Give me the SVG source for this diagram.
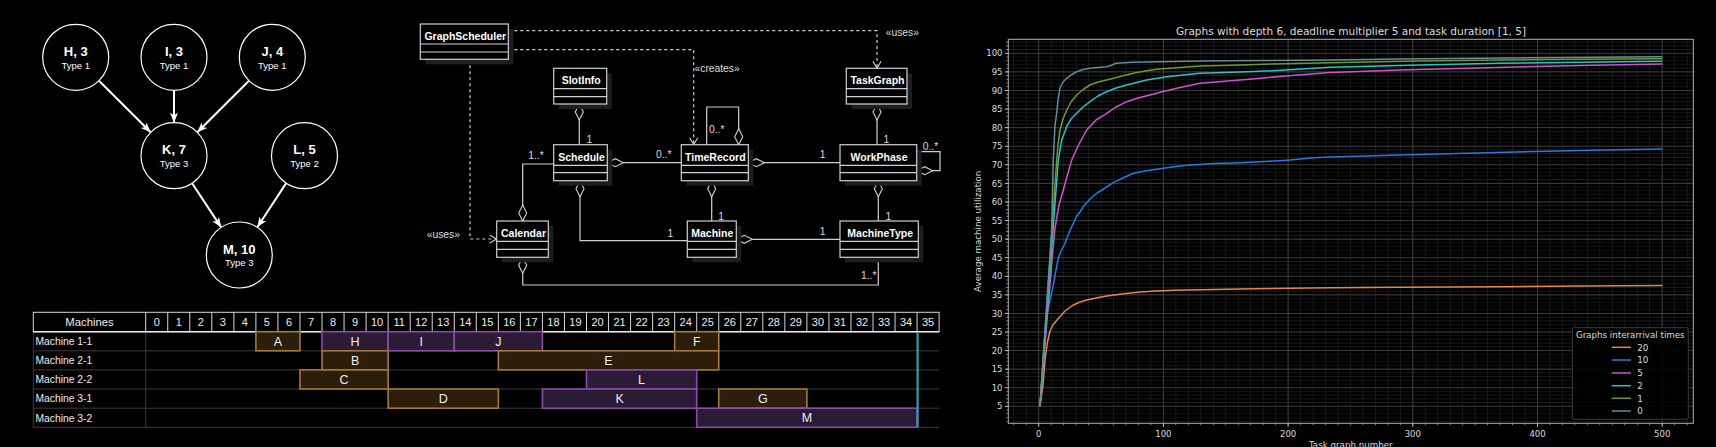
<svg xmlns="http://www.w3.org/2000/svg" width="1716" height="447" viewBox="0 0 1716 447">
<style>
.bg{fill:#000}
.circ{fill:#000;stroke:#fff;stroke-width:1.2}
.nt{font-family:"Liberation Sans",Arial,sans-serif;fill:#fff;text-anchor:middle}
.nb{font-weight:bold;font-size:13px}
.ns{font-size:9.5px}
.edge{stroke:#fff;stroke-width:2;fill:none}
.box{fill:#000;stroke:#d0d0d0;stroke-width:1.2}
.shadow{fill:#1e1e1e}
.div{stroke:#d0d0d0;stroke-width:1.2;fill:none}
.cn{font-family:"Liberation Sans",Arial,sans-serif;font-weight:bold;font-size:10.5px;fill:#fff;text-anchor:middle}
.assoc{stroke:#d0d0d0;stroke-width:1.2;fill:none}
.dash{stroke:#d0d0d0;stroke-width:1.2;fill:none;stroke-dasharray:3 3}
.lbl{font-family:"Liberation Sans",Arial,sans-serif;font-size:10.3px;fill:#ddd}
.gh{font-family:"Liberation Sans",Arial,sans-serif;font-size:11px;fill:#eee;text-anchor:middle}
.gr{font-family:"Liberation Sans",Arial,sans-serif;font-size:10.3px;fill:#eee}
.tl{font-family:"Liberation Sans",Arial,sans-serif;font-size:12.5px;fill:#eee;text-anchor:middle}
.brown{fill:#2d1e0c;stroke:#a27a3c;stroke-width:1.6}
.purple{fill:#2b1b35;stroke:#8a4ca8;stroke-width:1.6}
.rowl{stroke:#3c3c3c;stroke-width:1}
.hl{stroke:#d8d8d8;stroke-width:1}
.ct{font-family:"DejaVu Sans",sans-serif;fill:#ddd}
.tick{font-size:8.5px}
.ytick{text-anchor:end}
.xtick{text-anchor:middle}
.curve{fill:none;stroke-width:1.5;stroke-linejoin:round}
</style>
<defs>
<marker id="arr" markerUnits="userSpaceOnUse" viewBox="0 0 10 10" markerWidth="10" markerHeight="10" refX="10" refY="5" orient="auto">
<path d="M0,1 L10,5 L0,9 L2.5,5 z" fill="#fff"/>
</marker>
<marker id="open" markerUnits="userSpaceOnUse" viewBox="-1 -1 10 10" markerWidth="10" markerHeight="10" refX="7" refY="4" orient="auto">
<path d="M0,0 L7,4 L0,8" fill="none" stroke="#d0d0d0" stroke-width="1.1"/>
</marker>
<marker id="dia" markerUnits="userSpaceOnUse" viewBox="-1 -1 18 10" markerWidth="18" markerHeight="10" refX="0" refY="4" orient="auto">
<path d="M0,4 L8,0 L16,4 L8,8 z" fill="#000" stroke="#d0d0d0" stroke-width="1.1"/>
</marker>
</defs>
<rect class="bg" x="0" y="0" width="1716" height="447"/>

<!-- ===== Task graph ===== -->
<g id="graph-edges">
<path class="edge" d="M99,80.7 L150.7,132.3" marker-end="url(#arr)"/>
<path class="edge" d="M174,90.3 L174,122.7" marker-end="url(#arr)"/>
<path class="edge" d="M249,80.7 L197.3,132.3" marker-end="url(#arr)"/>
<path class="edge" d="M192.1,183.3 L221.2,227.4" marker-end="url(#arr)"/>
<path class="edge" d="M286,183.4 L257.3,227.3" marker-end="url(#arr)"/>
</g>
<g id="node-H"><circle class="circ" cx="75.7" cy="57.3" r="33"/><text class="nt nb" x="75.7" y="56">H, 3</text><text class="nt ns" x="75.7" y="68.5">Type 1</text></g>
<g id="node-I"><circle class="circ" cx="174" cy="57.3" r="33"/><text class="nt nb" x="174" y="56">I, 3</text><text class="nt ns" x="174" y="68.5">Type 1</text></g>
<g id="node-J"><circle class="circ" cx="272.3" cy="57.3" r="33"/><text class="nt nb" x="272.3" y="56">J, 4</text><text class="nt ns" x="272.3" y="68.5">Type 1</text></g>
<g id="node-K"><circle class="circ" cx="174" cy="155.7" r="33"/><text class="nt nb" x="174" y="154.4">K, 7</text><text class="nt ns" x="174" y="166.9">Type 3</text></g>
<g id="node-L"><circle class="circ" cx="304.5" cy="155.7" r="33"/><text class="nt nb" x="304.5" y="154.4">L, 5</text><text class="nt ns" x="304.5" y="166.9">Type 2</text></g>
<g id="node-M"><circle class="circ" cx="239.3" cy="255" r="33"/><text class="nt nb" x="239.3" y="253.7">M, 10</text><text class="nt ns" x="239.3" y="266.2">Type 3</text></g>

<!-- ===== UML class diagram ===== -->
<g id="uml-connectors">
<path class="dash" d="M508.3,30.7 H877 V68.3" marker-end="url(#open)"/>
<path class="dash" d="M508.3,49.7 H693.7 V144.7" marker-end="url(#open)"/>
<path class="dash" d="M470,59.3 V239 H496.7" marker-end="url(#open)"/>
<path class="assoc" d="M579.3,104 V144.7" marker-start="url(#dia)"/>
<path class="assoc" d="M877,104 V144.7" marker-start="url(#dia)"/>
<path class="assoc" d="M607.3,162.7 H681.3" marker-start="url(#dia)"/>
<path class="assoc" d="M522.7,221 V164 H553.7" marker-start="url(#dia)"/>
<path class="assoc" d="M580,180.7 V240.7 H687.3" marker-start="url(#dia)"/>
<path class="assoc" d="M738.7,144.7 V107 H706.7 V144.7" marker-start="url(#dia)"/>
<path class="assoc" d="M748.3,162.7 H840" marker-start="url(#dia)"/>
<path class="assoc" d="M916.7,170.7 H940 V151.7 H916.7" marker-start="url(#dia)"/>
<path class="assoc" d="M711.7,180.7 V221" marker-start="url(#dia)"/>
<path class="assoc" d="M878.3,180.7 V221" marker-start="url(#dia)"/>
<path class="assoc" d="M736.3,239.3 H840" marker-start="url(#dia)"/>
<path class="assoc" d="M522.7,257.3 V285 H878.3 V257.3" marker-start="url(#dia)"/>
<text class="lbl" x="885.7" y="35.5">«uses»</text>
<text class="lbl" x="694.5" y="71.8">«creates»</text>
<text class="lbl" x="426.7" y="237.8">«uses»</text>
<text class="lbl" x="586.5" y="143">1</text>
<text class="lbl" x="883.5" y="143">1</text>
<text class="lbl" x="656" y="158">0..*</text>
<text class="lbl" x="528.3" y="158.5">1..*</text>
<text class="lbl" x="667.5" y="236.5">1</text>
<text class="lbl" x="709" y="133">0..*</text>
<text class="lbl" x="819.8" y="158">1</text>
<text class="lbl" x="922.7" y="149.5">0..*</text>
<text class="lbl" x="718.2" y="219.7">1</text>
<text class="lbl" x="885.5" y="219.7">1</text>
<text class="lbl" x="819.8" y="234.5">1</text>
<text class="lbl" x="861" y="278.5">1..*</text>
</g>
<g id="cls-GraphScheduler"><rect class="shadow" x="425.3" y="29" width="88" height="35.3"/><rect class="box" x="420.3" y="24" width="88" height="35.3"/><path class="div" d="M420.3,44 H508.3 M420.3,52 H508.3"/><text class="cn" x="465.3" y="40">GraphScheduler</text></g>
<g id="cls-SlotInfo"><rect class="shadow" x="558.7" y="73.3" width="53" height="35.7"/><rect class="box" x="553.7" y="68.3" width="53" height="35.7"/><path class="div" d="M553.7,88.7 H606.7 M553.7,96.7 H606.7"/><text class="cn" x="581.2" y="84.3">SlotInfo</text></g>
<g id="cls-TaskGraph"><rect class="shadow" x="851.3" y="73.3" width="60.7" height="35.7"/><rect class="box" x="846.3" y="68.3" width="60.7" height="35.7"/><path class="div" d="M846.3,88.7 H907 M846.3,96.7 H907"/><text class="cn" x="877.5" y="84.3">TaskGraph</text></g>
<g id="cls-Schedule"><rect class="shadow" x="558.7" y="149.7" width="53.6" height="36"/><rect class="box" x="553.7" y="144.7" width="53.6" height="36"/><path class="div" d="M553.7,165.3 H607.3 M553.7,172.7 H607.3"/><text class="cn" x="581.5" y="160.5">Schedule</text></g>
<g id="cls-TimeRecord"><rect class="shadow" x="686.3" y="149.7" width="67" height="36"/><rect class="box" x="681.3" y="144.7" width="67" height="36"/><path class="div" d="M681.3,165.3 H748.3 M681.3,172.7 H748.3"/><text class="cn" x="715.3" y="160.5">TimeRecord</text></g>
<g id="cls-WorkPhase"><rect class="shadow" x="845" y="149.7" width="76.7" height="36"/><rect class="box" x="840" y="144.7" width="76.7" height="36"/><path class="div" d="M840,165.3 H916.7 M840,172.7 H916.7"/><text class="cn" x="879" y="160.5">WorkPhase</text></g>
<g id="cls-Calendar"><rect class="shadow" x="501.7" y="226" width="51.6" height="36.3"/><rect class="box" x="496.7" y="221" width="51.6" height="36.3"/><path class="div" d="M496.7,241.3 H548.3 M496.7,249.3 H548.3"/><text class="cn" x="523.5" y="237.3">Calendar</text></g>
<g id="cls-Machine"><rect class="shadow" x="692.3" y="226" width="49" height="36.3"/><rect class="box" x="687.3" y="221" width="49" height="36.3"/><path class="div" d="M687.3,241.3 H736.3 M687.3,249.3 H736.3"/><text class="cn" x="712.3" y="237.3">Machine</text></g>
<g id="cls-MachineType"><rect class="shadow" x="845" y="226" width="78.3" height="36.3"/><rect class="box" x="840" y="221" width="78.3" height="36.3"/><path class="div" d="M840,241.3 H918.3 M840,249.3 H918.3"/><text class="cn" x="880.2" y="237.3">MachineType</text></g>

<!-- ===== Gantt chart ===== -->
<g id="gantt">
<path class="rowl" d="M33.3,350.8 H939.1 M33.3,369.9 H939.1 M33.3,389 H939.1 M33.3,408.2 H939.1 M33.3,427.3 H939.1 M33.3,331.7 V427.3 M145.7,331.7 V427.3"/>
<rect x="33.3" y="312.3" width="905.8" height="19.4" fill="#000" stroke="#d8d8d8" stroke-width="1"/>
<path class="hl" d="M145.7,312.3V331.7 M167.74,312.3V331.7 M189.78,312.3V331.7 M211.82,312.3V331.7 M233.86,312.3V331.7 M255.9,312.3V331.7 M277.94,312.3V331.7 M299.98,312.3V331.7 M322.02,312.3V331.7 M344.06,312.3V331.7 M366.1,312.3V331.7 M388.14,312.3V331.7 M410.18,312.3V331.7 M432.22,312.3V331.7 M454.26,312.3V331.7 M476.3,312.3V331.7 M498.34,312.3V331.7 M520.38,312.3V331.7 M542.42,312.3V331.7 M564.46,312.3V331.7 M586.5,312.3V331.7 M608.54,312.3V331.7 M630.58,312.3V331.7 M652.62,312.3V331.7 M674.66,312.3V331.7 M696.7,312.3V331.7 M718.74,312.3V331.7 M740.78,312.3V331.7 M762.82,312.3V331.7 M784.86,312.3V331.7 M806.9,312.3V331.7 M828.94,312.3V331.7 M850.98,312.3V331.7 M873.02,312.3V331.7 M895.06,312.3V331.7 M917.1,312.3V331.7"/>
<line x1="33.3" y1="331.7" x2="939.1" y2="331.7" stroke="#e8e8e8" stroke-width="1.6"/>
<text class="gh" x="89.5" y="325.8" style="font-size:11.3px">Machines</text>
<text class="gh" x="156.72" y="325.8">0</text><text class="gh" x="178.76" y="325.8">1</text><text class="gh" x="200.8" y="325.8">2</text><text class="gh" x="222.84" y="325.8">3</text><text class="gh" x="244.88" y="325.8">4</text><text class="gh" x="266.92" y="325.8">5</text><text class="gh" x="288.96" y="325.8">6</text><text class="gh" x="311" y="325.8">7</text><text class="gh" x="333.04" y="325.8">8</text><text class="gh" x="355.08" y="325.8">9</text><text class="gh" x="377.12" y="325.8">10</text><text class="gh" x="399.16" y="325.8">11</text><text class="gh" x="421.2" y="325.8">12</text><text class="gh" x="443.24" y="325.8">13</text><text class="gh" x="465.28" y="325.8">14</text><text class="gh" x="487.32" y="325.8">15</text><text class="gh" x="509.36" y="325.8">16</text><text class="gh" x="531.4" y="325.8">17</text><text class="gh" x="553.44" y="325.8">18</text><text class="gh" x="575.48" y="325.8">19</text><text class="gh" x="597.52" y="325.8">20</text><text class="gh" x="619.56" y="325.8">21</text><text class="gh" x="641.6" y="325.8">22</text><text class="gh" x="663.64" y="325.8">23</text><text class="gh" x="685.68" y="325.8">24</text><text class="gh" x="707.72" y="325.8">25</text><text class="gh" x="729.76" y="325.8">26</text><text class="gh" x="751.8" y="325.8">27</text><text class="gh" x="773.84" y="325.8">28</text><text class="gh" x="795.88" y="325.8">29</text><text class="gh" x="817.92" y="325.8">30</text><text class="gh" x="839.96" y="325.8">31</text><text class="gh" x="862" y="325.8">32</text><text class="gh" x="884.04" y="325.8">33</text><text class="gh" x="906.08" y="325.8">34</text><text class="gh" x="928.12" y="325.8">35</text>
<text class="gr" x="35.5" y="345">Machine 1-1</text>
<text class="gr" x="35.5" y="364.2">Machine 2-1</text>
<text class="gr" x="35.5" y="383.3">Machine 2-2</text>
<text class="gr" x="35.5" y="402.4">Machine 3-1</text>
<text class="gr" x="35.5" y="421.5">Machine 3-2</text>
</g>
<g id="task-A"><rect class="brown" x="255.9" y="331.7" width="44.08" height="19.1"/><text class="tl" x="277.94" y="345.7">A</text></g>
<g id="task-H"><rect class="purple" x="322.02" y="331.7" width="66.12" height="19.1"/><text class="tl" x="355.08" y="345.7">H</text></g>
<g id="task-I"><rect class="purple" x="388.14" y="331.7" width="66.12" height="19.1"/><text class="tl" x="421.2" y="345.7">I</text></g>
<g id="task-J"><rect class="purple" x="454.26" y="331.7" width="88.16" height="19.1"/><text class="tl" x="498.34" y="345.7">J</text></g>
<g id="task-F"><rect class="brown" x="674.66" y="331.7" width="44.08" height="19.1"/><text class="tl" x="696.7" y="345.7">F</text></g>
<g id="task-B"><rect class="brown" x="322.02" y="350.8" width="66.12" height="19.1"/><text class="tl" x="355.08" y="364.8">B</text></g>
<g id="task-E"><rect class="brown" x="498.34" y="350.8" width="220.4" height="19.1"/><text class="tl" x="608.54" y="364.8">E</text></g>
<g id="task-C"><rect class="brown" x="299.98" y="369.9" width="88.16" height="19.1"/><text class="tl" x="344.06" y="383.9">C</text></g>
<g id="task-L"><rect class="purple" x="586.5" y="369.9" width="110.2" height="19.1"/><text class="tl" x="641.6" y="383.9">L</text></g>
<g id="task-D"><rect class="brown" x="388.14" y="389" width="110.2" height="19.2"/><text class="tl" x="443.24" y="403.1">D</text></g>
<g id="task-K"><rect class="purple" x="542.42" y="389" width="154.28" height="19.2"/><text class="tl" x="619.56" y="403.1">K</text></g>
<g id="task-G"><rect class="brown" x="718.74" y="389" width="88.16" height="19.2"/><text class="tl" x="762.82" y="403.1">G</text></g>
<g id="task-M"><rect class="purple" x="696.7" y="408.2" width="220.4" height="19.1"/><text class="tl" x="806.9" y="422.2">M</text></g>
<line x1="917.6" y1="332.5" x2="917.6" y2="427.3" stroke="#2aa3ad" stroke-width="2.2"/>

<!-- ===== Line chart ===== -->
<g id="chart">
<text class="ct" x="1351" y="34.5" text-anchor="middle" style="font-size:10.5px">Graphs with depth 6, deadline multiplier 5 and task duration [1, 5]</text>
<line x1="1350.8" y1="41.85" x2="1350.8" y2="423.3" stroke="#232323" stroke-width="685" stroke-dasharray="0.6 3.116"/>
<line x1="1013.46" y1="231.3" x2="1693.3" y2="231.3" stroke="#232323" stroke-width="384" stroke-dasharray="0.6 11.87"/>
<path stroke="#464646" stroke-width="0.8" fill="none" d="M1038.7,39.3V423.3 M1163.4,39.3V423.3 M1288.1,39.3V423.3 M1412.8,39.3V423.3 M1537.5,39.3V423.3 M1662.2,39.3V423.3 M1008.3,53.3H1693.3 M1008.3,71.88H1693.3 M1008.3,90.46H1693.3 M1008.3,109.04H1693.3 M1008.3,127.62H1693.3 M1008.3,146.2H1693.3 M1008.3,164.78H1693.3 M1008.3,183.36H1693.3 M1008.3,201.94H1693.3 M1008.3,220.52H1693.3 M1008.3,239.1H1693.3 M1008.3,257.68H1693.3 M1008.3,276.26H1693.3 M1008.3,294.84H1693.3 M1008.3,313.42H1693.3 M1008.3,332H1693.3 M1008.3,350.58H1693.3 M1008.3,369.16H1693.3 M1008.3,387.74H1693.3 M1008.3,406.32H1693.3"/>
<line x1="1007.3" y1="41.85" x2="1007.3" y2="423.3" stroke="#bbb" stroke-width="2" stroke-dasharray="0.6 3.116"/>
<line x1="1013.46" y1="424.3" x2="1693.3" y2="424.3" stroke="#bbb" stroke-width="2" stroke-dasharray="0.6 11.87"/>
<path stroke="#ccc" stroke-width="0.9" fill="none" d="M1008.3,53.3h-3.5 M1008.3,71.88h-3.5 M1008.3,90.46h-3.5 M1008.3,109.04h-3.5 M1008.3,127.62h-3.5 M1008.3,146.2h-3.5 M1008.3,164.78h-3.5 M1008.3,183.36h-3.5 M1008.3,201.94h-3.5 M1008.3,220.52h-3.5 M1008.3,239.1h-3.5 M1008.3,257.68h-3.5 M1008.3,276.26h-3.5 M1008.3,294.84h-3.5 M1008.3,313.42h-3.5 M1008.3,332h-3.5 M1008.3,350.58h-3.5 M1008.3,369.16h-3.5 M1008.3,387.74h-3.5 M1008.3,406.32h-3.5 M1038.7,423.3v3.5 M1163.4,423.3v3.5 M1288.1,423.3v3.5 M1412.8,423.3v3.5 M1537.5,423.3v3.5 M1662.2,423.3v3.5"/>
<polyline class="curve" stroke="#e8873e" points="1040,406.3 1043,385 1045,360 1047.5,342 1050,331 1053,325 1057,320 1061,315.5 1065,311 1069,308 1073.3,305 1080,302 1086.7,300 1096,298 1106.7,296 1120,294.3 1140,292 1156,291 1173.3,290.3 1200,289.7 1240,289 1290,288.3 1330,287.7 1400,287.2 1500,286.7 1580,286 1662.3,285.5"/>
<polyline class="curve" stroke="#1b7fe6" points="1040,406.3 1043,360 1046.7,316.7 1050,300 1053.3,285 1056,270 1058.3,258.3 1061.5,250 1065,243.3 1068,235 1071.7,226.7 1076.7,216 1080,212 1083.3,206.7 1090,199 1096.7,193.3 1105,188 1113.3,182.7 1123,178 1133.3,173.3 1145,171 1156.7,169.3 1172,167 1190,165 1215,163.5 1240,162.7 1265,161.5 1290,160 1310,158 1330,157 1400,155 1486.7,152.7 1580,150.5 1662.3,149"/>
<polyline class="curve" stroke="#d053cd" points="1040,406.3 1047,320 1052,260 1055,228 1059,205 1063.3,190 1068,173 1071.7,160 1078,146 1086.7,130 1096,120 1106.7,113.3 1116,107 1126.7,101.7 1138,98 1150,95 1163,91.5 1176.7,88.3 1200,83.3 1240,80 1280,76.5 1330,72.5 1400,70 1486.7,67.7 1580,65.5 1662.3,64"/>
<polyline class="curve" stroke="#22c7c9" points="1040,406.3 1053,230 1058.3,160 1061.7,140 1066.7,126.7 1071,119 1076.7,113.3 1083,107 1090,101.7 1098,96 1106.7,91.7 1116,88 1126.7,85 1146.7,80 1166.7,76.7 1200,73.3 1240,72 1273,70.7 1330,67.3 1420,65 1500,63.3 1580,62.3 1662.3,61.3"/>
<polyline class="curve" stroke="#6e9c2b" points="1040,406.3 1052,230 1056.7,160 1058,145 1060,130 1063,119 1066.7,110 1071,102 1076.7,95 1083,89.5 1090,85 1098,82 1106.7,80 1120,76.5 1133.3,73.3 1145,71 1156.7,69.3 1180,67.5 1200,66 1240,65 1273,64 1330,62.7 1420,61 1500,60 1580,59.3 1662.3,58.7"/>
<polyline class="curve" stroke="#5f909c" points="1040,406.3 1047,300 1051.7,230 1053.3,160 1055,125 1056.7,113.3 1058,100 1060,88 1063,82 1066.7,78.3 1071,75 1076.7,71.7 1083,69.5 1090,68.3 1098,67.5 1106.7,66.7 1112,65 1116,63.3 1133.3,62.3 1160,61.7 1200,61 1260,60.5 1330,60 1400,59 1480,58.3 1560,57.5 1662.3,56.7"/>
<rect x="1008.3" y="39.3" width="685" height="384" fill="none" stroke="#b0b0b0" stroke-width="1"/>
<g class="ct tick ytick">
<text x="1002.5" y="56.4">100</text><text x="1002.5" y="75">95</text><text x="1002.5" y="93.6">90</text><text x="1002.5" y="112.1">85</text><text x="1002.5" y="130.7">80</text><text x="1002.5" y="149.3">75</text><text x="1002.5" y="167.9">70</text><text x="1002.5" y="186.5">65</text><text x="1002.5" y="205">60</text><text x="1002.5" y="223.6">55</text><text x="1002.5" y="242.2">50</text><text x="1002.5" y="260.8">45</text><text x="1002.5" y="279.4">40</text><text x="1002.5" y="297.9">35</text><text x="1002.5" y="316.5">30</text><text x="1002.5" y="335.1">25</text><text x="1002.5" y="353.7">20</text><text x="1002.5" y="372.3">15</text><text x="1002.5" y="390.8">10</text><text x="1002.5" y="409.4">5</text>
</g>
<g class="ct tick xtick">
<text x="1038.7" y="436.5">0</text><text x="1163.4" y="436.5">100</text><text x="1288.1" y="436.5">200</text><text x="1412.8" y="436.5">300</text><text x="1537.5" y="436.5">400</text><text x="1662.2" y="436.5">500</text>
</g>
<text class="ct" x="1350.8" y="448" text-anchor="middle" style="font-size:8.7px">Task graph number</text>
<text class="ct" x="981.3" y="231.3" text-anchor="middle" style="font-size:8.7px" transform="rotate(-90 981.3 231.3)">Average machine utilization</text>
</g>
<g id="legend">
<rect x="1572.3" y="327.7" width="116" height="91.6" rx="2" fill="#000" fill-opacity="0.85" stroke="#3a3a3a" stroke-width="1"/>
<text class="ct" x="1630.3" y="337.5" text-anchor="middle" style="font-size:8.7px">Graphs interarrival times</text>
<line x1="1611.7" y1="347.3" x2="1631" y2="347.3" stroke="#e8873e" stroke-width="1.5"/>
<line x1="1611.7" y1="360" x2="1631" y2="360" stroke="#1b7fe6" stroke-width="1.5"/>
<line x1="1611.7" y1="373" x2="1631" y2="373" stroke="#d053cd" stroke-width="1.5"/>
<line x1="1611.7" y1="385.7" x2="1631" y2="385.7" stroke="#22c7c9" stroke-width="1.5"/>
<line x1="1611.7" y1="398.3" x2="1631" y2="398.3" stroke="#6e9c2b" stroke-width="1.5"/>
<line x1="1611.7" y1="411" x2="1631" y2="411" stroke="#5f909c" stroke-width="1.5"/>
<g class="ct" style="font-size:8.7px">
<text x="1637.3" y="350.5">20</text><text x="1637.3" y="363.2">10</text><text x="1637.3" y="376.2">5</text><text x="1637.3" y="388.9">2</text><text x="1637.3" y="401.5">1</text><text x="1637.3" y="414.2">0</text>
</g>
</g>
</svg>
